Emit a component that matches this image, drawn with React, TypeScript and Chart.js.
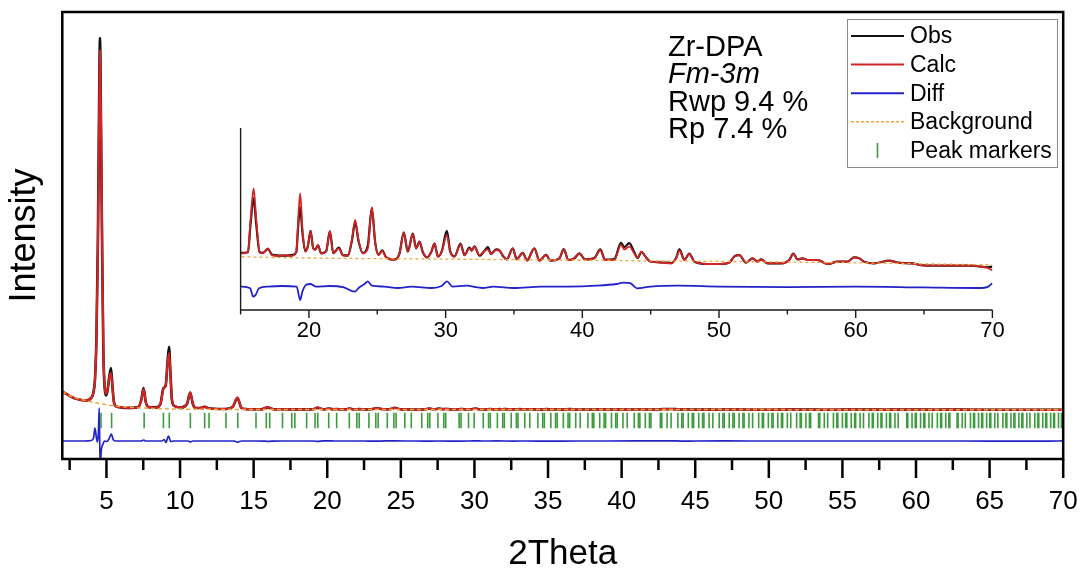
import React, { useEffect, useRef } from 'react';
import { Chart, registerables } from 'chart.js';

Chart.register(...registerables);

const FONT = "'Liberation Sans', Arial, Helvetica, sans-serif";

// ---------- pattern (Obs / Calc share the 2Theta grid) ----------
const twoTheta = [
  2.0, 2.4, 2.8, 3.2, 3.6, 3.97, 4.12, 4.22, 4.32, 4.42,
  4.5, 4.56, 4.63, 4.71, 4.79, 4.87, 4.95, 5.07, 5.19, 5.31,
  5.42, 5.52, 5.67, 6.07, 6.67, 7.17, 7.37, 7.52, 7.67, 7.87,
  8.37, 8.67, 8.87, 9.02, 9.15, 9.25, 9.35, 9.45, 9.62, 10.07,
  10.47, 10.69, 10.87, 11.07, 11.47, 11.67, 11.87, 12.27, 13.07, 13.57,
  13.9, 14.17, 14.57, 15.12, 15.54, 15.73, 15.95, 16.15, 16.39, 16.64,
  17.0, 17.29, 17.73, 18.22, 18.71, 19.07, 19.24, 19.36, 19.53, 19.73,
  19.92, 20.12, 20.31, 20.46, 20.66, 20.9, 21.26, 21.53, 21.78, 22.19,
  22.48, 22.85, 23.14, 23.38, 23.63, 23.94, 24.31, 24.6, 24.85, 25.09,
  25.36, 25.65, 26.26, 26.62, 26.94, 27.23, 27.6, 27.84, 28.09, 28.33,
  28.65, 28.94, 29.19, 29.43, 29.72, 30.09, 30.33, 30.65, 31.09, 31.38,
  31.74, 31.91, 32.11, 32.47, 32.89, 33.08, 33.33, 33.69, 33.94, 34.18,
  34.47, 34.91, 35.2, 35.64, 35.96, 36.49, 36.86, 37.35, 37.66, 38.32,
  38.64, 38.98, 39.42, 39.78, 40.2, 40.88, 41.32, 41.66, 42.34, 42.83,
  43.07, 43.44, 43.8, 44.04, 44.33, 44.66, 45.02, 45.76, 46.49, 46.86,
  47.1, 47.47, 47.83, 48.2, 49.17, 50.15, 50.76, 51.12, 51.49, 51.97,
  52.46, 52.83, 53.07, 53.56, 54.53, 55.14, 55.43, 55.75, 56.11, 56.48,
  57.21, 57.94, 58.67, 59.4, 59.89, 60.25, 60.62, 61.35, 62.45, 63.06,
  64.15, 64.76, 65.98, 67.2, 68.42, 69.15, 69.63, 70.0,
];

const calcCounts = [
  3230, 2900, 2600, 2420, 2360, 2600, 3150, 4400, 8500, 18000,
  31000, 37400, 30000, 17500, 7500, 4000, 3000, 3400, 4600, 5100,
  3400, 2100, 1750, 1650, 1600, 1700, 2400, 3500, 2200, 1700,
  1650, 2000, 3500, 3900, 5900, 7100, 4900, 2400, 1800, 1650,
  2000, 3130, 2000, 1600, 1620, 1730, 1600, 1520, 1500, 1700,
  2630, 1600, 1480, 1466, 1472, 1583, 1694, 1583, 1472, 1466,
  1484, 1460, 1457, 1460, 1457, 1472, 1606, 1676, 1548, 1472,
  1490, 1542, 1484, 1478, 1496, 1466, 1472, 1545, 1466, 1484,
  1460, 1457, 1513, 1583, 1513, 1466, 1484, 1627, 1501, 1460,
  1475, 1452, 1445, 1466, 1539, 1472, 1533, 1484, 1507, 1472,
  1452, 1472, 1501, 1455, 1472, 1530, 1472, 1455, 1498, 1460,
  1484, 1476, 1490, 1460, 1476, 1480, 1464, 1478, 1476, 1460,
  1445, 1484, 1445, 1469, 1441, 1484, 1441, 1460, 1441, 1449,
  1480, 1443, 1449, 1466, 1445, 1449, 1478, 1443, 1443, 1496,
  1480, 1490, 1466, 1452, 1472, 1452, 1437, 1434, 1431, 1449,
  1476, 1443, 1464, 1437, 1429, 1429, 1434, 1455, 1460, 1434,
  1449, 1437, 1445, 1431, 1431, 1443, 1464, 1445, 1449, 1443,
  1443, 1429, 1437, 1437, 1452, 1449, 1437, 1431, 1441, 1434,
  1431, 1425, 1423, 1423, 1423, 1420, 1416, 1406,
];

const obsCounts = [
  3230, 2910, 2590, 2430, 2350, 2620, 3200, 4500, 8700, 18600,
  32000, 38600, 29600, 16800, 7100, 3800, 2850, 3300, 4700, 5600,
  3500, 2100, 1760, 1640, 1610, 1700, 2450, 3600, 2200, 1690,
  1660, 2000, 3600, 3800, 6200, 7730, 5000, 2400, 1800, 1650,
  2000, 3150, 2000, 1600, 1620, 1730, 1600, 1520, 1500, 1700,
  2600, 1600, 1480, 1468, 1470, 1570, 1659, 1565, 1470, 1468,
  1482, 1462, 1459, 1458, 1460, 1470, 1580, 1627, 1535, 1474,
  1492, 1545, 1484, 1480, 1494, 1466, 1474, 1543, 1467, 1486,
  1460, 1459, 1510, 1575, 1508, 1468, 1495, 1625, 1503, 1462,
  1477, 1452, 1444, 1465, 1540, 1472, 1535, 1484, 1507, 1470,
  1452, 1470, 1500, 1455, 1474, 1545, 1474, 1456, 1500, 1460,
  1486, 1476, 1491, 1458, 1478, 1488, 1464, 1480, 1476, 1458,
  1445, 1484, 1446, 1468, 1442, 1484, 1441, 1461, 1441, 1449,
  1481, 1443, 1449, 1466, 1445, 1450, 1480, 1444, 1446, 1503,
  1488, 1502, 1470, 1450, 1471, 1452, 1437, 1435, 1432, 1450,
  1480, 1444, 1465, 1437, 1429, 1429, 1434, 1456, 1460, 1434,
  1449, 1437, 1445, 1431, 1431, 1443, 1465, 1445, 1449, 1443,
  1443, 1429, 1437, 1437, 1452, 1449, 1437, 1431, 1441, 1434,
  1431, 1425, 1423, 1423, 1423, 1420, 1418, 1420,
];

// ---------- background ----------
const bgTwoTheta = [2.0, 2.5, 3.0, 3.5, 4.0, 4.5, 5.0, 5.5, 6.0, 7.0, 8.0, 9.0, 10.0, 12.0, 15.0, 20.0, 30.0, 40.0, 50.0, 60.0, 70.0];
const bgCounts = [3230, 2850, 2580, 2380, 2200, 2050, 1920, 1820, 1740, 1640, 1560, 1520, 1490, 1465, 1455, 1450, 1446, 1442, 1438, 1433, 1426];

// ---------- difference (Obs - Calc) ----------
const diffTwoTheta = [
  2.0, 3.5, 3.97, 4.12, 4.22, 4.32, 4.38, 4.45, 4.51, 4.57,
  4.65, 4.74, 4.87, 5.02, 5.17, 5.33, 5.47, 5.67, 7.37, 7.52,
  7.67, 8.77, 8.92, 9.04, 9.21, 9.37, 9.57, 10.57, 10.69, 10.87,
  13.67, 13.9, 14.17, 15.12, 15.7, 15.92, 16.1, 16.35, 17.0, 18.0,
  19.1, 19.36, 19.52, 19.8, 20.1, 20.5, 21.5, 22.5, 23.35, 23.65,
  24.1, 24.3, 24.6, 25.5, 26.5, 27.5, 29.0, 29.7, 30.1, 30.5,
  31.5, 32.7, 33.5, 35.0, 37.0, 39.0, 41.0, 42.5, 43.0, 43.5,
  44.0, 45.0, 47.0, 50.0, 55.0, 60.0, 65.0, 69.0, 69.7, 70.0,
];
const diffCounts = [
  0, 0, 50, 300, 1300, 300, -100, 800, 3300, -2600,
  -900, -400, 0, -50, 200, 700, 100, 0, 0, 100,
  0, 0, 150, -150, 500, -50, 0, 0, -100, 0,
  0, -120, 0, 0, -6, -35, -29, -6, 0, 2,
  0, -47, -18, 6, 9, 0, 2, -2, -18, -4,
  10, 18, 3, 0, -5, 0, -5, 2, 18, 0,
  3, -5, 0, -5, 0, 0, 3, 9, 14, 12,
  -6, 0, 3, 0, -2, 0, -3, -5, 0, 12,
];

// ---------- Bragg peak markers (2Theta) ----------
const peakMarkers = [
  4.63, 5.35, 7.56, 8.87, 9.27, 10.70, 11.67, 11.97, 13.12, 13.92,
  15.16, 15.86, 16.09, 16.96, 17.59, 17.80, 18.60, 19.17, 19.36, 20.10,
  20.64, 21.50, 22.01, 22.17, 22.83, 23.30, 23.46, 24.08, 24.53, 24.68,
  25.27, 25.71, 26.42, 26.83, 26.97, 27.52, 27.92, 28.05, 28.96, 29.09,
  29.60, 29.98, 30.60, 30.96, 31.08, 31.56, 31.92, 32.03, 32.50, 32.85,
  32.96, 33.42, 33.76, 34.31, 34.64, 34.75, 35.19, 35.51, 35.62, 36.04,
  36.36, 36.47, 36.88, 37.19, 37.71, 38.01, 38.11, 38.51, 38.81, 38.91,
  39.31, 39.60, 39.70, 40.09, 40.38, 40.86, 41.14, 41.24, 41.61, 41.89,
  41.99, 42.63, 42.73, 43.09, 43.36, 43.82, 44.09, 44.18, 44.53, 44.80,
  44.89, 45.24, 45.50, 45.59, 45.94, 46.20, 46.63, 46.88, 46.97, 47.31,
  47.56, 47.65, 47.98, 48.24, 48.32, 48.65, 48.90, 49.31, 49.56, 49.64,
  49.97, 50.21, 50.29, 50.61, 50.86, 50.94, 51.26, 51.49, 51.89, 52.13,
  52.21, 52.52, 52.76, 52.84, 53.38, 53.46, 53.77, 54.00, 54.39, 54.62,
  54.69, 55.00, 55.22, 55.30, 55.60, 55.83, 55.90, 56.20, 56.43, 56.80,
  57.03, 57.10, 57.40, 57.62, 57.69, 57.99, 58.21, 58.28, 58.57, 58.79,
  59.37, 59.44, 59.73, 59.95, 60.02, 60.31, 60.53, 60.60, 60.88, 61.10,
  61.45, 61.67, 61.74, 62.02, 62.23, 62.30, 62.79, 62.86, 63.14, 63.35,
  63.70, 63.91, 63.98, 64.25, 64.46, 64.53, 64.80, 65.01, 65.08, 65.35,
  65.56, 65.90, 66.11, 66.17, 66.45, 66.65, 66.72, 66.99, 67.19, 67.26,
  67.53, 67.74, 68.07, 68.28, 68.34, 68.61, 68.81, 68.88, 69.15, 69.35,
  69.41, 69.68, 69.88,
];

// ---------- ticks & text ----------
const mainTickLabels = [5, 10, 15, 20, 25, 30, 35, 40, 45, 50, 55, 60, 65, 70];
const mainMinorTicks = [2.5, 7.5, 12.5, 17.5, 22.5, 27.5, 32.5, 37.5, 42.5, 47.5, 52.5, 57.5, 62.5, 67.5];
const insetTickLabels = [20, 30, 40, 50, 60, 70];
const insetMinorTicks = [15, 25, 35, 45, 55, 65];
const legendLabels = ['Obs', 'Calc', 'Diff', 'Background', 'Peak markers'];
const annotationLines = ['Zr-DPA', 'Fm-3m', 'Rwp 9.4 %', 'Rp 7.4 %'];
const xTitle = '2Theta';
const yTitle = 'Intensity';

// ---------- styling / plotting constants ----------
const COLORS = { obs: '#111111', calc: '#d42323', diff: '#2323c8', bg: '#f0a63c', marker: '#3d9b3d' };
const MAIN_DIFF_OFFSET = -1700;
const INSET_DIFF_OFFSET = 1350;
const MARKER_LEVEL = 350;
const W = 1083;
const H = 572;

function xy(xs: number[], ys: number[], offset = 0) {
  return xs.map((x, i) => ({ x, y: ys[i] + offset }));
}

function lineSet(label: string, data: any[], color: string, width: number, extra: any = {}) {
  return {
    label,
    data,
    borderColor: color,
    backgroundColor: color,
    borderWidth: width,
    pointRadius: 0,
    cubicInterpolationMode: 'monotone',
    fill: false,
    ...extra,
  };
}

const mainDecor = {
  id: 'mainDecor',
  afterDatasetsDraw(chart: any) {
    const { ctx, chartArea: a } = chart;
    const x = chart.scales.x;
    ctx.save();
    ctx.strokeStyle = '#000';
    ctx.lineWidth = 2.5;
    ctx.strokeRect(a.left, a.top, a.right - a.left, a.bottom - a.top);
    ctx.beginPath();
    mainTickLabels.forEach((v) => {
      const p = x.getPixelForValue(v);
      ctx.moveTo(p, a.bottom);
      ctx.lineTo(p, a.bottom + 19);
    });
    mainMinorTicks.forEach((v) => {
      const p = x.getPixelForValue(v);
      ctx.moveTo(p, a.bottom);
      ctx.lineTo(p, a.bottom + 11);
    });
    ctx.stroke();
    ctx.restore();
  },
  afterDraw(chart: any) {
    const { ctx } = chart;
    ctx.save();
    // legend box
    ctx.fillStyle = '#ffffff';
    ctx.fillRect(847, 19, 210, 148);
    ctx.strokeStyle = '#8a8a8a';
    ctx.lineWidth = 1;
    ctx.strokeRect(847.5, 19.5, 210, 148);
    const styles = [
      { color: COLORS.obs, width: 2, dash: [] as number[] },
      { color: COLORS.calc, width: 2, dash: [] as number[] },
      { color: COLORS.diff, width: 2, dash: [] as number[] },
      { color: COLORS.bg, width: 1.5, dash: [3, 2] },
      { color: COLORS.marker, width: 1.6, dash: [] as number[], vertical: true },
    ];
    legendLabels.forEach((label, i) => {
      const cy = 36 + i * 28.6;
      const s: any = styles[i];
      ctx.strokeStyle = s.color;
      ctx.lineWidth = s.width;
      ctx.setLineDash(s.dash);
      ctx.beginPath();
      if (s.vertical) {
        ctx.moveTo(877.5, cy - 7.5);
        ctx.lineTo(877.5, cy + 7.5);
      } else {
        ctx.moveTo(851, cy);
        ctx.lineTo(904, cy);
      }
      ctx.stroke();
      ctx.setLineDash([]);
      ctx.fillStyle = '#000';
      ctx.font = `23px ${FONT}`;
      ctx.textBaseline = 'middle';
      ctx.textAlign = 'left';
      ctx.fillText(label, 910, cy + 1);
    });
    // annotation
    const baselines = [55.5, 83, 110.5, 138];
    annotationLines.forEach((line, i) => {
      ctx.font = i === 1 ? `italic 29px ${FONT}` : `29px ${FONT}`;
      ctx.textBaseline = 'alphabetic';
      ctx.fillStyle = '#000';
      ctx.fillText(line, 668, baselines[i]);
    });
    ctx.restore();
  },
};

const insetDecor = {
  id: 'insetDecor',
  afterDatasetsDraw(chart: any) {
    const { ctx, chartArea: a } = chart;
    const x = chart.scales.x;
    ctx.save();
    ctx.strokeStyle = '#1a1a1a';
    ctx.lineWidth = 1.4;
    ctx.beginPath();
    ctx.moveTo(a.left, a.top);
    ctx.lineTo(a.left, a.bottom);
    ctx.lineTo(a.right, a.bottom);
    insetTickLabels.forEach((v) => {
      const p = x.getPixelForValue(v);
      ctx.moveTo(p, a.bottom);
      ctx.lineTo(p, a.bottom + 8);
    });
    insetMinorTicks.forEach((v) => {
      const p = x.getPixelForValue(v);
      ctx.moveTo(p, a.bottom);
      ctx.lineTo(p, a.bottom + 4.5);
    });
    ctx.stroke();
    ctx.restore();
  },
};

function mainConfig(): any {
  return {
    type: 'line',
    data: {
      datasets: [
        {
          label: 'Peak markers',
          data: peakMarkers.map((x) => ({ x, y: MARKER_LEVEL })),
          showLine: false,
          pointStyle: 'line',
          pointRotation: 90,
          pointRadius: 7.8,
          pointBorderWidth: 1.6,
          pointBorderColor: COLORS.marker,
          pointBackgroundColor: COLORS.marker,
          borderColor: COLORS.marker,
          order: 0,
        },
        lineSet('Background', xy(bgTwoTheta, bgCounts), COLORS.bg, 1.5, { borderDash: [4, 3], order: 1 }),
        lineSet('Calc', xy(twoTheta, calcCounts), COLORS.calc, 2.2, { order: 2 }),
        lineSet('Obs', xy(twoTheta, obsCounts), COLORS.obs, 2.6, { order: 3 }),
        lineSet('Diff', xy(diffTwoTheta, diffCounts, MAIN_DIFF_OFFSET), COLORS.diff, 1.7, { order: 4 }),
      ],
    },
    options: {
      responsive: false,
      maintainAspectRatio: false,
      devicePixelRatio: 1,
      animation: false,
      events: [],
      layout: { padding: { top: 12, right: W - 1063.2, bottom: 0, left: 0 } },
      plugins: { legend: { display: false }, tooltip: { enabled: false }, title: { display: false } },
      scales: {
        x: {
          type: 'linear',
          min: 2,
          max: 70,
          afterBuildTicks: (s: any) => {
            s.ticks = mainTickLabels.map((v) => ({ value: v }));
          },
          afterFit: (s: any) => {
            s.height = H - 459;
          },
          grid: { display: false, drawTicks: true, tickLength: 27.4 },
          border: { display: false },
          ticks: {
            padding: 0,
            color: '#000',
            maxRotation: 0,
            autoSkip: false,
            font: { size: 26, family: FONT },
            callback: (v: any) => String(v),
          },
          title: {
            display: true,
            text: xTitle,
            color: '#000',
            font: { size: 35, family: FONT, lineHeight: 1 },
            padding: { top: 0, bottom: 0 },
          },
        },
        y: {
          type: 'linear',
          min: -3500,
          max: 41200,
          afterFit: (s: any) => {
            s.width = 62.3;
          },
          ticks: { display: false },
          grid: { display: false, drawTicks: false },
          border: { display: false },
          title: {
            display: true,
            text: yTitle,
            color: '#000',
            font: { size: 36, family: FONT, lineHeight: 1.2 },
            padding: { top: 3.4, bottom: 0 },
          },
        },
      },
    },
    plugins: [mainDecor],
  };
}

function insetConfig(): any {
  return {
    type: 'line',
    data: {
      datasets: [
        lineSet('Background', xy(bgTwoTheta, bgCounts), COLORS.bg, 1.3, { borderDash: [3, 3], order: 1 }),
        lineSet('Calc', xy(twoTheta, calcCounts), COLORS.calc, 1.8, { order: 2 }),
        lineSet('Obs', xy(twoTheta, obsCounts), COLORS.obs, 2.2, { order: 3 }),
        lineSet('Diff', xy(diffTwoTheta, diffCounts, INSET_DIFF_OFFSET), COLORS.diff, 1.8, { order: 4 }),
      ],
    },
    options: {
      responsive: false,
      maintainAspectRatio: false,
      devicePixelRatio: 1,
      animation: false,
      events: [],
      layout: { padding: { top: 128, right: W - 992.4, bottom: 0, left: 0 } },
      plugins: { legend: { display: false }, tooltip: { enabled: false }, title: { display: false } },
      scales: {
        x: {
          type: 'linear',
          min: 15,
          max: 70,
          afterBuildTicks: (s: any) => {
            s.ticks = insetTickLabels.map((v) => ({ value: v }));
          },
          afterFit: (s: any) => {
            s.height = H - 310;
          },
          grid: { display: false, drawTicks: true, tickLength: 8 },
          border: { display: false },
          ticks: {
            padding: 0,
            color: '#000',
            maxRotation: 0,
            autoSkip: false,
            font: { size: 22, family: FONT },
            callback: (v: any) => String(v),
          },
        },
        y: {
          type: 'linear',
          min: 1268,
          max: 1905,
          afterFit: (s: any) => {
            s.width = 240.6;
          },
          ticks: { display: false },
          grid: { display: false, drawTicks: false },
          border: { display: false },
        },
      },
    },
    plugins: [insetDecor],
  };
}

export default function App() {
  const mainRef = useRef<HTMLCanvasElement>(null);
  const insetRef = useRef<HTMLCanvasElement>(null);

  useEffect(() => {
    Chart.defaults.font.family = FONT;
    Chart.defaults.color = '#000';
    const main = new Chart(mainRef.current as HTMLCanvasElement, mainConfig());
    const inset = new Chart(insetRef.current as HTMLCanvasElement, insetConfig());
    return () => {
      main.destroy();
      inset.destroy();
    };
  }, []);

  return (
    <div style={{ position: 'absolute', left: 0, top: 0, width: W, height: H, background: '#ffffff' }}>
      <canvas ref={mainRef} width={W} height={H} style={{ position: 'absolute', left: 0, top: 0 }} />
      <canvas
        ref={insetRef}
        width={W}
        height={H}
        style={{ position: 'absolute', left: 0, top: 0, pointerEvents: 'none' }}
      />
    </div>
  );
}
